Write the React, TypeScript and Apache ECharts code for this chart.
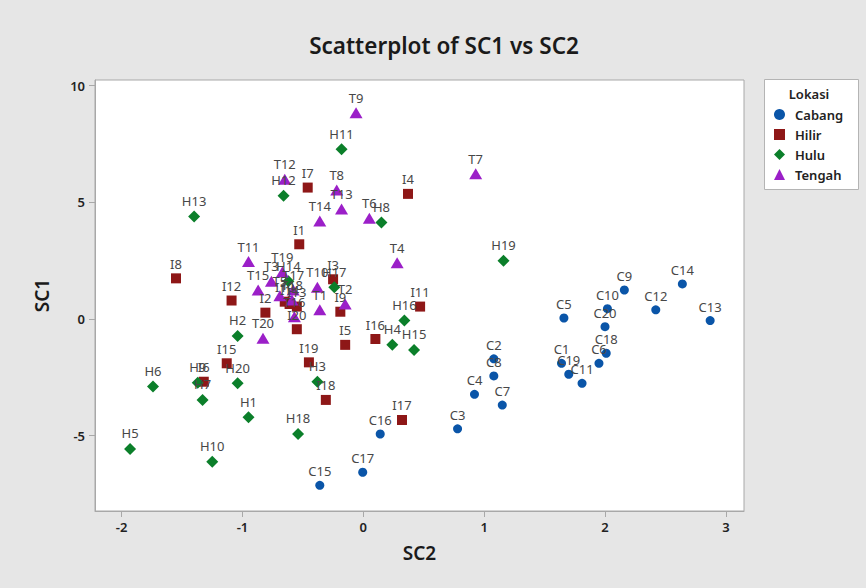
import React, { useEffect, useRef } from "react";
import * as echarts from "echarts";

// [label, SC2 (x), SC1 (y)]
const cabang: [string, number, number][] = [
  ["C1", 1.64, -1.9], ["C2", 1.08, -1.71], ["C3", 0.78, -4.71], ["C4", 0.92, -3.23],
  ["C5", 1.66, 0.04], ["C6", 1.95, -1.9], ["C7", 1.15, -3.69], ["C8", 1.08, -2.44],
  ["C9", 2.16, 1.24], ["C10", 2.02, 0.44], ["C11", 1.81, -2.76], ["C12", 2.42, 0.39],
  ["C13", 2.87, -0.07], ["C14", 2.64, 1.5], ["C15", -0.36, -7.13], ["C16", 0.14, -4.93],
  ["C17", -0.005, -6.57], ["C18", 2.01, -1.47], ["C19", 1.7, -2.37], ["C20", 2.0, -0.33],
];
const hilir: [string, number, number][] = [
  ["I1", -0.53, 3.2], ["I2", -0.81, 0.27], ["I3", -0.25, 1.7], ["I4", 0.37, 5.36],
  ["I5", -0.15, -1.11], ["I6", -1.32, -2.69], ["I7", -0.46, 5.63], ["I8", -1.55, 1.74],
  ["I9", -0.19, 0.31], ["I10", -0.65, 0.74], ["I11", 0.47, 0.53], ["I12", -1.09, 0.79],
  ["I13", -0.55, 0.53], ["I14", -0.61, 0.64], ["I15", -1.13, -1.9], ["I16", 0.1, -0.86],
  ["I17", 0.32, -4.33], ["I18", -0.31, -3.47], ["I19", -0.45, -1.86], ["I20", -0.55, -0.44],
];
const hulu: [string, number, number][] = [
  ["H1", -0.95, -4.21], ["H2", -1.04, -0.73], ["H3", -0.38, -2.69], ["H4", 0.24, -1.11],
  ["H5", -1.93, -5.57], ["H6", -1.74, -2.9], ["H7", -1.33, -3.47], ["H8", 0.15, 4.13],
  ["H9", -1.37, -2.73], ["H10", -1.25, -6.12], ["H11", -0.18, 7.27], ["H12", -0.66, 5.28],
  ["H13", -1.4, 4.39], ["H14", -0.62, 1.62], ["H15", 0.42, -1.33], ["H16", 0.34, -0.07],
  ["H17", -0.24, 1.36], ["H18", -0.54, -4.93], ["H19", 1.16, 2.49], ["H20", -1.04, -2.76],
];
const tengah: [string, number, number][] = [
  ["T1", -0.36, 0.39], ["T2", -0.15, 0.64], ["T3", -0.76, 1.62], ["T4", 0.28, 2.41],
  ["T5", -0.69, 0.99], ["T6", 0.05, 4.32], ["T7", 0.93, 6.22], ["T8", -0.22, 5.53],
  ["T9", -0.06, 8.84], ["T10", -0.38, 1.36], ["T11", -0.95, 2.46], ["T12", -0.65, 5.99],
  ["T13", -0.18, 4.71], ["T14", -0.36, 4.2], ["T15", -0.87, 1.24], ["T16", -0.57, 0.09],
  ["T17", -0.58, 1.24], ["T18", -0.59, 0.81], ["T19", -0.67, 2.01], ["T20", -0.83, -0.83],
];

const xTicks = [-2, -1, 0, 1, 2, 3];
const yTicks = [-5, 0, 5, 10];

const FONT = "Noto Sans";

function makeSeries(
  name: string,
  rows: [string, number, number][],
  symbol: string,
  size: number | number[],
  color: string
) {
  return {
    type: "scatter",
    name,
    symbol,
    symbolSize: size,
    itemStyle: { color, opacity: 1 },
    emphasis: { disabled: true },
    data: rows.map((r) => ({ name: r[0], value: [r[1], r[2]] })),
    label: {
      show: true,
      position: "top",
      distance: 3,
      formatter: "{b}",
      color: "#474747",
      fontSize: 13,
      fontFamily: FONT,
    },
  };
}

export default function App() {
  const ref = useRef<HTMLDivElement>(null);
  useEffect(() => {
    document.body.style.margin = "0";
    const chart = echarts.init(ref.current!, null, { renderer: "svg" });
    chart.setOption({
      animation: false,
      backgroundColor: "#e6e6e6",
      textStyle: { fontFamily: FONT },
      title: {
        text: "Scatterplot of SC1 vs SC2",
        left: 444,
        top: 34,
        textAlign: "center",
        padding: 0,
        textStyle: { fontFamily: FONT, fontSize: 22.5, fontWeight: 600, color: "#1a1a1a" },
      },
      grid: {
        left: 95,
        right: 122,
        top: 80,
        bottom: 77,
        show: true,
        backgroundColor: "#ffffff",
        borderColor: "#a8a8a8",
        borderWidth: 1,
      },
      xAxis: {
        type: "value",
        min: -2.22,
        max: 3.15,
        name: "SC2",
        nameLocation: "middle",
        nameGap: 32,
        nameTextStyle: { fontFamily: FONT, fontSize: 19, fontWeight: 600, color: "#1a1a1a" },
        axisLine: { show: true, onZero: false, lineStyle: { color: "#a8a8a8" } },
        axisTick: { show: true, length: 6, customValues: xTicks, lineStyle: { color: "#a8a8a8" } },
        axisLabel: {
          customValues: xTicks,
          margin: 9,
          fontSize: 13,
          fontWeight: 600,
          color: "#222",
          fontFamily: FONT,
        },
        splitLine: { show: false },
      },
      yAxis: {
        type: "value",
        min: -8.23,
        max: 10.24,
        name: "SC1",
        nameLocation: "middle",
        nameGap: 44,
        nameRotate: 90,
        nameTextStyle: { fontFamily: FONT, fontSize: 19, fontWeight: 600, color: "#1a1a1a" },
        axisLine: { show: true, onZero: false, lineStyle: { color: "#a8a8a8" } },
        axisTick: { show: true, length: 6, customValues: yTicks, lineStyle: { color: "#a8a8a8" } },
        axisLabel: {
          customValues: yTicks,
          margin: 10,
          fontSize: 13,
          fontWeight: 600,
          color: "#222",
          fontFamily: FONT,
        },
        splitLine: { show: false },
      },
      legend: {
        orient: "vertical",
        left: 774,
        top: 108,
        padding: 0,
        itemGap: 7,
        itemWidth: 11,
        itemHeight: 11,
        selectedMode: false,
        textStyle: { fontFamily: FONT, fontSize: 13, fontWeight: 600, color: "#222", padding: [0, 0, 0, 5] },
        data: ["Cabang", "Hilir", "Hulu", "Tengah"],
      },
      graphic: [
        {
          type: "rect",
          z: -1,
          silent: true,
          shape: { x: 764.5, y: 79.5, width: 94, height: 110 },
          style: { fill: "#ffffff", stroke: "#b4b4b4", lineWidth: 1 },
        },
        {
          type: "text",
          silent: true,
          x: 809,
          y: 94,
          style: {
            text: "Lokasi",
            fontFamily: FONT,
            fontSize: 13,
            fontWeight: 600,
            fill: "#222",
            align: "center",
            verticalAlign: "middle",
          },
        },
      ],
      series: [
        makeSeries("Cabang", cabang, "circle", 9, "#0a55a8"),
        makeSeries("Hilir", hilir, "rect", 10, "#8e1717"),
        makeSeries("Hulu", hulu, "diamond", 12, "#0b7f2a"),
        makeSeries("Tengah", tengah, "triangle", [13, 11], "#9b1fc8"),
      ],
    });
    return () => chart.dispose();
  }, []);
  return <div ref={ref} style={{ width: 866, height: 588 }} />;
}
